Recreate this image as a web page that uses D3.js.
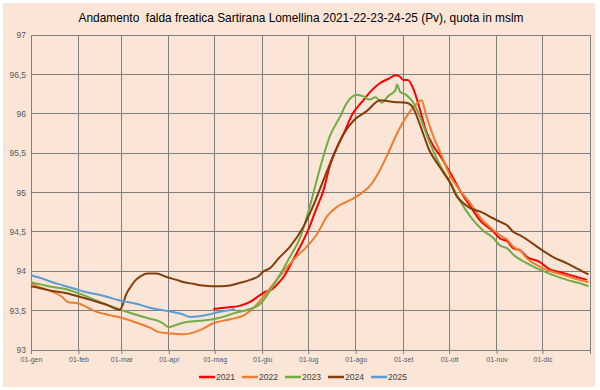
<!DOCTYPE html>
<html><head><meta charset="utf-8">
<script src="https://cdn.jsdelivr.net/npm/d3@7"></script>
<style>html,body{margin:0;padding:0;background:#fff;}svg{display:block;}</style>
</head><body>
<svg id="chart" width="600" height="390"></svg>
<script>
const title = "Andamento  falda freatica Sartirana Lomellina 2021-22-23-24-25 (Pv), quota in mslm";
const monthLabels = ["01-gen","01-feb","01-mar","01-apr","01-mag","01-giu","01-lug","01-ago","01-set","01-ott","01-nov","01-dic"];
const monthStarts = [0,31,59,90,120,151,181,212,243,273,304,334,365];
const yTicks = [93,93.5,94,94.5,95,95.5,96,96.5,97];
const seriesNames = ["2021","2022","2023","2024","2025"];
const seriesColors = ["#FF0000","#ED7D31","#70AD47","#843C0C","#5B9BD5"];

// day of year / level (m s.l.m.)
const days2021 = [119,128,136,143,149,153,156,158,162,165,171,178,182,186,191,195,200,204,210,217,219,228,234,238,241,243,246,250,254,258,263,267,274,280,287,293,302,306,311,315,319,324,332,339,345,354,363];
const vals2021 = [93.52,93.54,93.56,93.61,93.69,93.74,93.76,93.78,93.86,93.93,94.14,94.40,94.57,94.78,95.03,95.33,95.58,95.74,96.00,96.17,96.22,96.39,96.45,96.49,96.47,96.43,96.43,96.30,96.05,95.78,95.58,95.47,95.24,95.03,94.82,94.65,94.50,94.42,94.38,94.29,94.27,94.18,94.12,94.02,93.99,93.94,93.89];

const days2022 = [0,5,11,20,24,31,42,52,59,70,78,83,91,99,110,119,130,139,145,152,156,160,165,173,180,187,193,200,208,215,222,226,232,239,245,252,255,258,263,267,274,280,287,293,302,306,311,315,320,324,332,341,350,358,364];
const vals2022 = [93.85,93.80,93.76,93.68,93.61,93.59,93.49,93.44,93.41,93.34,93.28,93.23,93.21,93.20,93.25,93.34,93.39,93.44,93.53,93.68,93.78,93.88,94.00,94.18,94.31,94.48,94.69,94.82,94.90,94.98,95.10,95.22,95.45,95.75,95.96,96.13,96.17,95.98,95.70,95.52,95.20,95.03,94.86,94.69,94.52,94.46,94.40,94.31,94.25,94.16,94.06,93.99,93.94,93.89,93.86];

const days2023 = [0,7,14,21,31,40,50,59,68,77,83,86,90,95,100,110,119,127,133,143,150,156,163,169,176,182,189,195,202,206,213,217,221,225,229,233,238,239,241,245,250,254,260,267,274,280,287,295,302,306,311,315,324,332,341,350,358,364];
const vals2023 = [93.86,93.83,93.80,93.78,93.72,93.65,93.57,93.51,93.45,93.40,93.37,93.34,93.29,93.32,93.35,93.37,93.39,93.43,93.47,93.52,93.59,93.75,93.97,94.18,94.44,94.82,95.33,95.71,95.97,96.13,96.24,96.22,96.18,96.21,96.14,96.22,96.30,96.37,96.28,96.24,96.13,95.96,95.65,95.35,95.12,94.90,94.69,94.52,94.42,94.33,94.29,94.21,94.10,94.02,93.95,93.89,93.85,93.81];

const days2024 = [0,7,14,21,31,40,50,58,60,62,65,68,72,76,82,88,95,100,106,112,118,124,130,136,143,148,152,156,162,169,178,184,191,197,204,211,219,228,237,245,249,254,260,267,274,278,282,287,293,302,306,311,315,320,324,332,341,350,358,364];
const vals2024 = [93.81,93.78,93.75,93.73,93.68,93.63,93.57,93.51,93.58,93.70,93.80,93.88,93.94,93.97,93.97,93.93,93.89,93.86,93.84,93.82,93.81,93.81,93.82,93.85,93.89,93.93,94.00,94.04,94.17,94.31,94.57,94.82,95.16,95.45,95.74,95.92,96.03,96.17,96.15,96.14,96.09,95.86,95.54,95.32,95.11,94.95,94.87,94.80,94.76,94.67,94.63,94.58,94.50,94.45,94.40,94.29,94.18,94.10,94.02,93.96];

const days2025 = [0,7,14,21,28,35,42,49,56,60,63,70,77,84,91,98,104,110,116,122,128,133];
const vals2025 = [93.95,93.91,93.86,93.82,93.78,93.74,93.71,93.68,93.64,93.62,93.61,93.58,93.54,93.51,93.49,93.46,93.42,93.43,93.45,93.48,93.50,93.52];

const seriesDays = [days2021,days2022,days2023,days2024,days2025];
const seriesVals = [vals2021,vals2022,vals2023,vals2024,vals2025];

const svg = d3.select("#chart");
const font = "'Liberation Sans', Arial, sans-serif";
svg.append("rect").attr("x",3).attr("y",3).attr("width",592).attr("height",384).attr("fill","#FBE5D6");

const x = d3.scaleLinear().domain([0,365]).range([31,590]);
const y = d3.scaleLinear().domain([93,97]).range([350,35]);

// title
svg.append("text").attr("x",301).attr("y",22).attr("text-anchor","middle")
  .attr("font-family",font).attr("font-size",13).attr("fill","#000")
  .attr("textLength",445).attr("lengthAdjust","spacingAndGlyphs")
  .style("white-space","pre").text(title);

// gridlines
const grid = svg.append("g");
grid.selectAll("line.h").data(yTicks).join("line")
  .attr("x1",x(0)).attr("x2",x(365)).attr("y1",d=>y(d)).attr("y2",d=>y(d))
  .attr("stroke","#7f7f7f").attr("stroke-width",1).attr("shape-rendering","crispEdges");
grid.selectAll("line.v").data(monthStarts).join("line")
  .attr("x1",d=>x(d)).attr("x2",d=>x(d)).attr("y1",y(97)).attr("y2",y(93))
  .attr("stroke","#7f7f7f").attr("stroke-width",1).attr("shape-rendering","crispEdges");

// axes
const yAxis = d3.axisLeft(y).tickValues(yTicks).tickSize(0).tickPadding(5)
  .tickFormat(d=>String(d).replace(".",","));
const gy = svg.append("g").attr("transform",`translate(${x(0)},0)`).call(yAxis);
gy.select(".domain").attr("stroke","#7f7f7f");
gy.selectAll("text").attr("font-family",font).attr("font-size",8.5).attr("fill","#595959");

const xAxis = d3.axisBottom(x).tickValues(monthStarts).tickSize(4).tickPadding(3)
  .tickFormat((d,i)=> i<monthLabels.length ? monthLabels[i] : "");
const gx = svg.append("g").attr("transform",`translate(0,${y(93)})`).call(xAxis);
gx.select(".domain").attr("stroke","#7f7f7f");
gx.selectAll("line").attr("stroke","#7f7f7f");
gx.selectAll("text").attr("font-family",font).attr("font-size",7).attr("fill","#595959");

// lines
const line = d3.line().x(d=>x(d[0])).y(d=>y(d[1])).curve(d3.curveMonotoneX);
seriesNames.forEach((name,i)=>{
  const pts = seriesDays[i].map((d,j)=>[d,seriesVals[i][j]]);
  svg.append("path").datum(pts).attr("d",line).attr("fill","none")
    .attr("stroke",seriesColors[i]).attr("stroke-width",2).attr("stroke-linejoin","round");
});

// legend
const lg = svg.append("g");
seriesNames.forEach((name,i)=>{
  const lx = 199 + i*43;
  lg.append("line").attr("x1",lx).attr("x2",lx+16).attr("y1",377).attr("y2",377)
    .attr("stroke",seriesColors[i]).attr("stroke-width",2.5);
  lg.append("text").attr("x",lx+17).attr("y",380).attr("font-family",font).attr("font-size",8.5)
    .attr("fill","#404040").text(name);
});
</script>
</body></html>
